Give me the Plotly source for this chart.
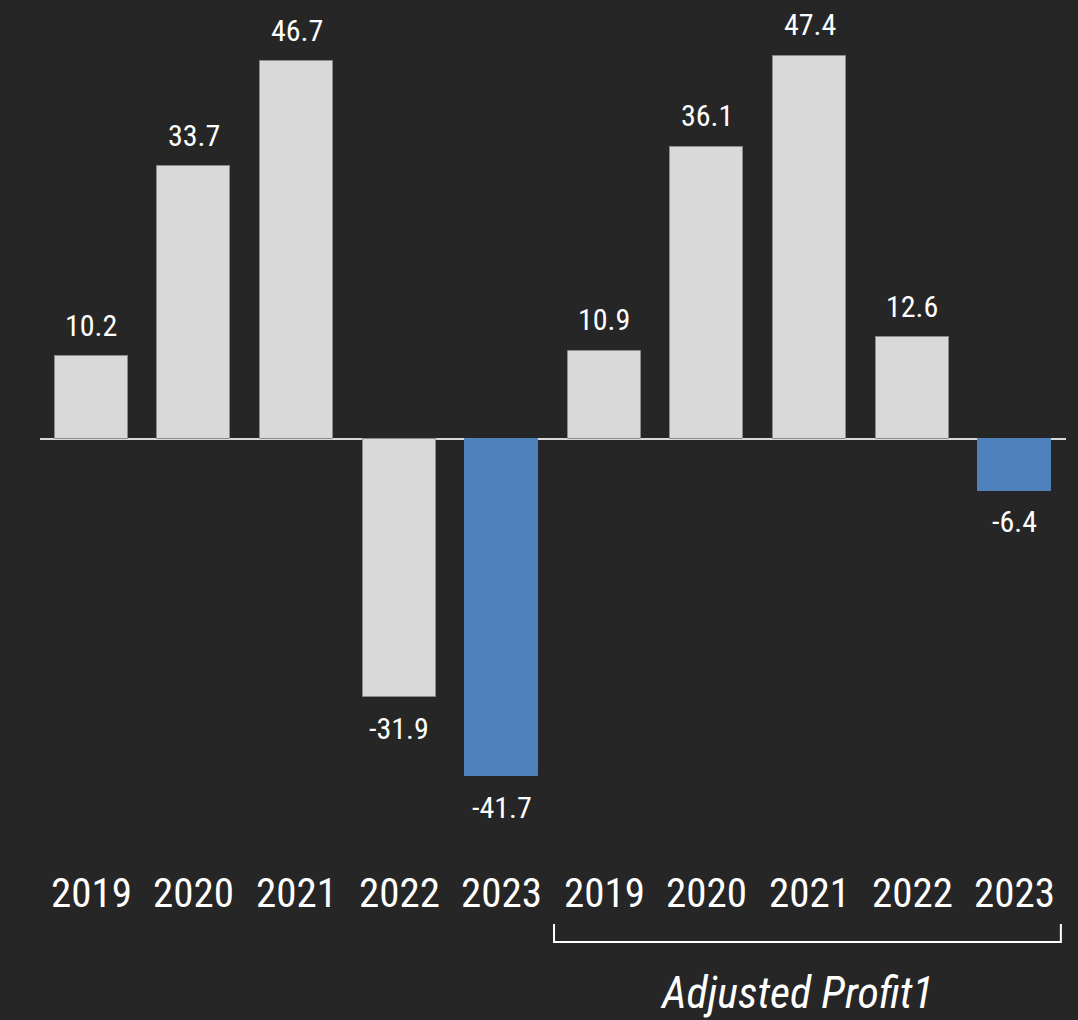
import plotly.graph_objects as go

# Net profit (first five) and adjusted profit (last five), by year
years = ["2019", "2020", "2021", "2022", "2023", "2019", "2020", "2021", "2022", "2023"]
values = [10.2, 33.7, 46.7, -31.9, -41.7, 10.9, 36.1, 47.4, 12.6, -6.4]
highlight = [False, False, False, False, True, False, False, False, False, True]
group_label = "Adjusted Profit1"

BG = "#262626"
GRAY = "#d9d9d9"
BLUE = "#4f81bd"
FONT = "Roboto Condensed, Liberation Sans Narrow, Arial Narrow, sans-serif"

W, H = 1078, 1020
L, R, T, B = 40, 12, 0, 0
zero_px = 439
px_per_unit = 8.09
y_top = (zero_px - T) / px_per_unit
y_bot = -(H - B - zero_px) / px_per_unit

xs = list(range(len(values)))
colors = [BLUE if h else GRAY for h in highlight]
line_colors = [BLUE if h else "#8c8c8c" for h in highlight]

fig = go.Figure()
fig.add_trace(go.Bar(
    x=xs, y=values, width=0.71,
    marker=dict(color=colors, line=dict(color=line_colors, width=1)),
    hoverinfo="skip",
))

# value labels beyond each bar end
for x, v in zip(xs, values):
    fig.add_annotation(
        x=x, y=v, xref="x", yref="y",
        text=f"{v:.1f}", showarrow=False,
        yanchor="middle", yshift=31 if v >= 0 else -31,
        font=dict(family=FONT, size=30, color="#ffffff"),
    )

# year labels under the plot
for x, yr in zip(xs, years):
    fig.add_annotation(
        x=x, y=1 - 893 / (H - T - B), xref="x", yref="paper",
        text=yr, showarrow=False, yanchor="middle",
        font=dict(family=FONT, size=41, color="#ffffff"),
    )

# bracket grouping the adjusted profit years
grp_start, grp_end = 5, 9
bx0 = grp_start - 0.49
bx1 = grp_end + 0.45
by_top = 1 - 924 / H
by_bot = 1 - 942 / H
fig.add_shape(
    type="path", xref="x", yref="paper",
    path=f"M {bx0} {by_top} L {bx0} {by_bot} L {bx1} {by_bot} L {bx1} {by_top}",
    line=dict(color="#ffffff", width=2),
)
fig.add_annotation(
    x=(grp_start + grp_end) / 2 - 0.12, y=1 - 993 / H, xref="x", yref="paper",
    text=f"<i>{group_label}</i>", showarrow=False, yanchor="middle",
    font=dict(family=FONT, size=44, color="#ffffff"),
)

fig.update_layout(
    width=W, height=H,
    margin=dict(l=L, r=R, t=T, b=B),
    paper_bgcolor=BG, plot_bgcolor=BG,
    showlegend=False, bargap=0,
    xaxis=dict(range=[-0.5, len(values) - 0.5], visible=False, fixedrange=True),
    yaxis=dict(range=[y_bot, y_top], showgrid=False, showticklabels=False,
               zeroline=True, zerolinecolor=GRAY, zerolinewidth=2,
               fixedrange=True),
)

fig.write_html("out.html", config={"displayModeBar": False})
